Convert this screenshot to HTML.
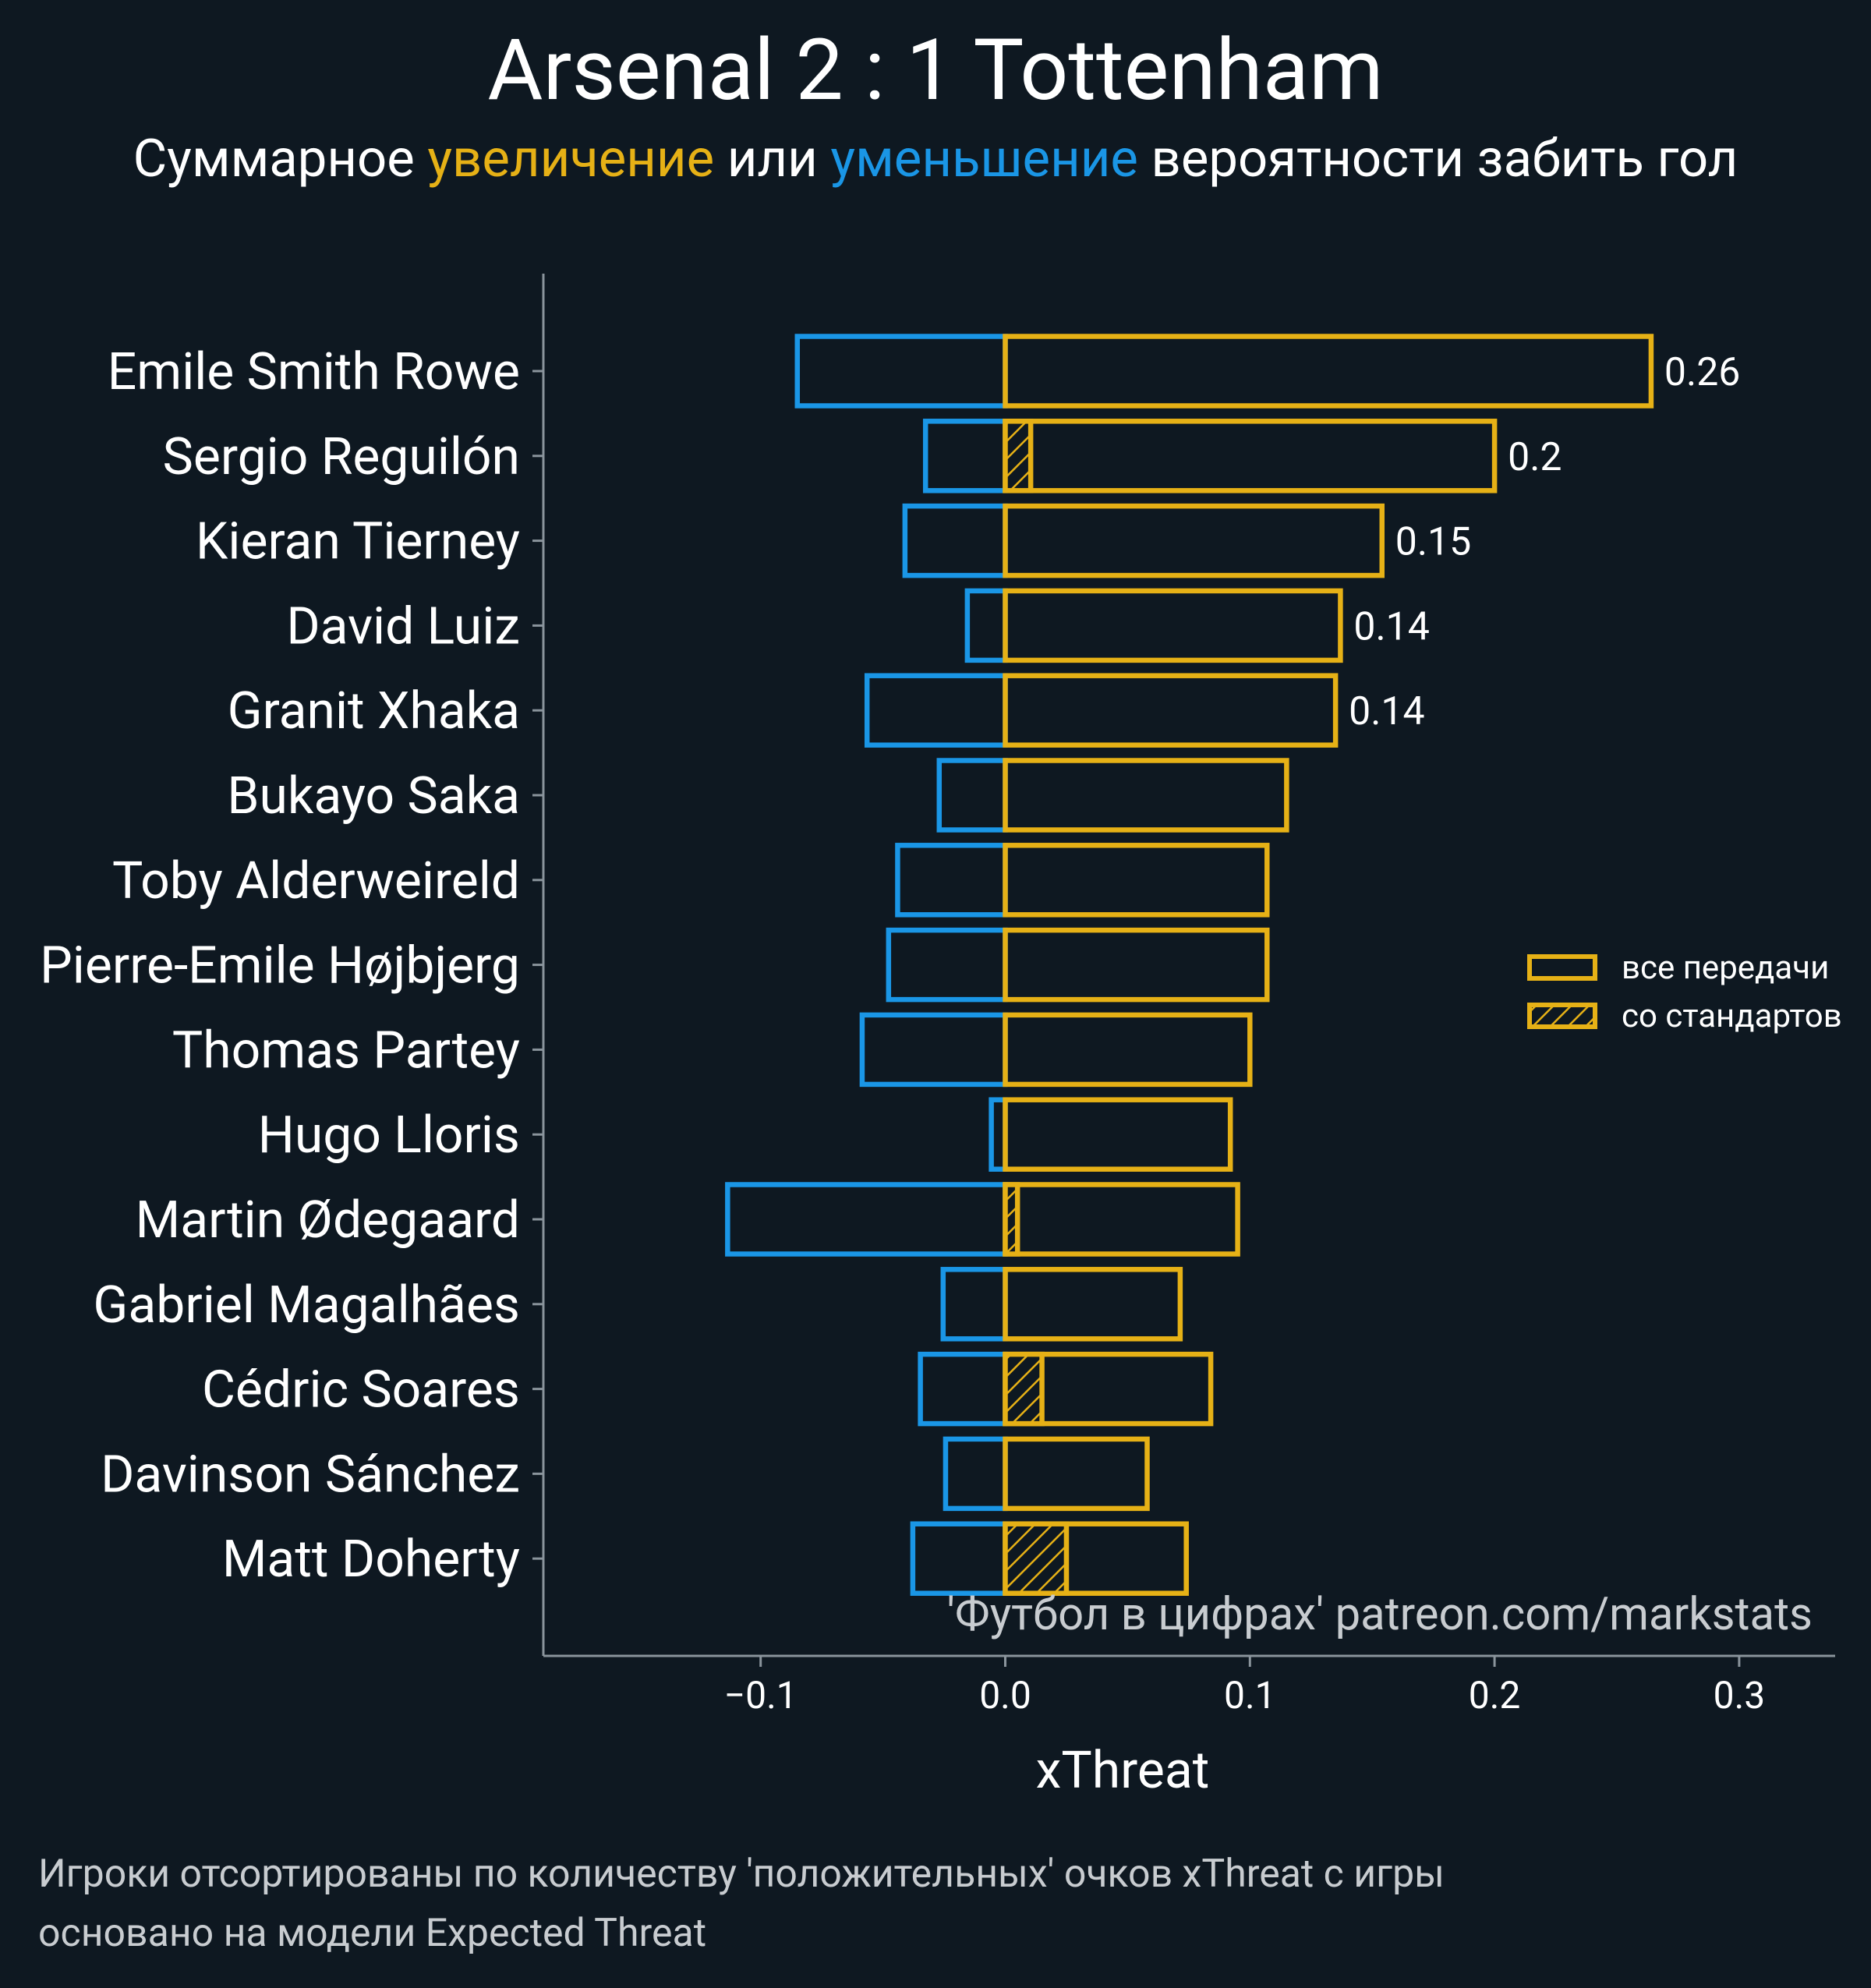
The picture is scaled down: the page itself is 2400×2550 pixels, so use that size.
<!DOCTYPE html>
<html><head><meta charset="utf-8"><style>
html,body{margin:0;padding:0;background:#0e1821;}
svg{display:block;font-family:"Roboto","Liberation Sans","DejaVu Sans",sans-serif;}
</style></head><body>
<svg id="chart" width="2400" height="2550" viewBox="0 0 2400 2550" xmlns="http://www.w3.org/2000/svg">
<defs>
<pattern id="hatch" patternUnits="userSpaceOnUse" width="16" height="16" patternTransform="rotate(45)">
<rect width="16" height="16" fill="#0e1821"/><line x1="0" y1="0" x2="0" y2="16" stroke="#e6b116" stroke-width="5"/>
</pattern>
</defs>
<rect width="2400" height="2550" fill="#0e1821"/>
<text x="1200" y="127" text-anchor="middle" font-size="109" fill="#ffffff">Arsenal 2 : 1 Tottenham</text>
<text x="1200" y="226" text-anchor="middle" font-size="67" fill="#ffffff">Суммарное <tspan fill="#e6b116">увеличение</tspan> или <tspan fill="#1a96e6">уменьшение</tspan> вероятности забить гол</text>
<g id="plot"></g>
<line x1="697" y1="351" x2="697" y2="2124" stroke="#8a949c" stroke-width="3"/>
<line x1="697" y1="2124" x2="2354" y2="2124" stroke="#8a949c" stroke-width="3"/>
<text x="1440" y="2293" text-anchor="middle" font-size="66" fill="#ffffff">xThreat</text>
<text x="2325" y="2090" text-anchor="end" font-size="58" fill="#c8ccd0">'Футбол в цифрах' patreon.com/markstats</text>
<g>
<rect x="1962" y="1227" width="84" height="28" fill="none" stroke="#e6b116" stroke-width="6"/>
<text x="2080" y="1255" font-size="42" fill="#ffffff">все передачи</text>
<rect x="1962" y="1289" width="84" height="28" fill="url(#hatch)" stroke="#e6b116" stroke-width="6"/>
<text x="2080" y="1317" font-size="42" fill="#ffffff">со стандартов</text>
</g>
<text x="49" y="2420" font-size="50" fill="#c8ccd0">Игроки отсортированы по количеству 'положительных' очков xThreat с игры</text>
<text x="49" y="2496" font-size="50" fill="#c8ccd0">основано на модели Expected Threat</text>
</svg>
<script>
const players = ["Emile Smith Rowe","Sergio Reguilón","Kieran Tierney","David Luiz","Granit Xhaka","Bukayo Saka","Toby Alderweireld","Pierre-Emile Højbjerg","Thomas Partey","Hugo Lloris","Martin Ødegaard","Gabriel Magalhães","Cédric Soares","Davinson Sánchez","Matt Doherty"];
const positiveValues = [0.264,0.200,0.154,0.137,0.135,0.115,0.107,0.107,0.100,0.092,0.095,0.0715,0.084,0.058,0.074];
const negativeValues = [-0.085,-0.0326,-0.041,-0.0155,-0.0565,-0.027,-0.044,-0.0477,-0.0585,-0.0057,-0.1135,-0.0254,-0.0347,-0.0244,-0.0378];
const setPieceValues = [0,0.0104,0,0,0,0,0,0,0,0,0.005,0,0.015,0,0.025];
const valueLabels = ["0.26","0.2","0.15","0.14","0.14"];
const xTicks = [-0.1,0.0,0.1,0.2,0.3];
const xTickLabels = ["−0.1","0.0","0.1","0.2","0.3"];

const NS="http://www.w3.org/2000/svg";
const g=document.getElementById('plot');
const xs=v=>1289.5+v*3138;
const ys=i=>476+i*108.8;
const BH=89;
function mk(tag,attrs){const e=document.createElementNS(NS,tag);for(const k in attrs)e.setAttribute(k,attrs[k]);g.appendChild(e);return e;}
players.forEach((p,i)=>{
  const y=ys(i);
  const n=mk('rect',{x:xs(negativeValues[i]),y:y-BH/2,width:xs(0)-xs(negativeValues[i]),height:BH,fill:'none',stroke:'#1a96e6','stroke-width':6.5});
  
  
  const pb=mk('rect',{x:xs(0),y:y-BH/2,width:xs(positiveValues[i])-xs(0),height:BH,fill:'none',stroke:'#e6b116','stroke-width':6.5});
  
  
  if(setPieceValues[i]>0){
    const s=mk('rect',{x:xs(0),y:y-BH/2,width:xs(setPieceValues[i])-xs(0),height:BH,fill:'url(#hatch)',stroke:'#e6b116','stroke-width':6.5});
    
    
  }
  const t=mk('line',{x1:683,x2:697,y1:y,y2:y,stroke:'#8a949c','stroke-width':3});
  
  
  const l=mk('text',{x:667,y:y+23,'text-anchor':'end','font-size':66,fill:'#ffffff'});
  l.textContent=p;
  
  
  if(i<valueLabels.length){
    const v=mk('text',{x:xs(positiveValues[i])+17,y:y+18,'font-size':50,fill:'#ffffff'});
    v.textContent=valueLabels[i];
    
    
  }
});
xTicks.forEach((v,i)=>{
  const t=mk('line',{x1:xs(v),x2:xs(v),y1:2124,y2:2138,stroke:'#8a949c','stroke-width':3});
  
  
  const l=mk('text',{x:xs(v),y:2191,'text-anchor':'middle','font-size':48,fill:'#ffffff'});
  l.textContent=xTickLabels[i];
  
  
});
</script>
</body></html>
